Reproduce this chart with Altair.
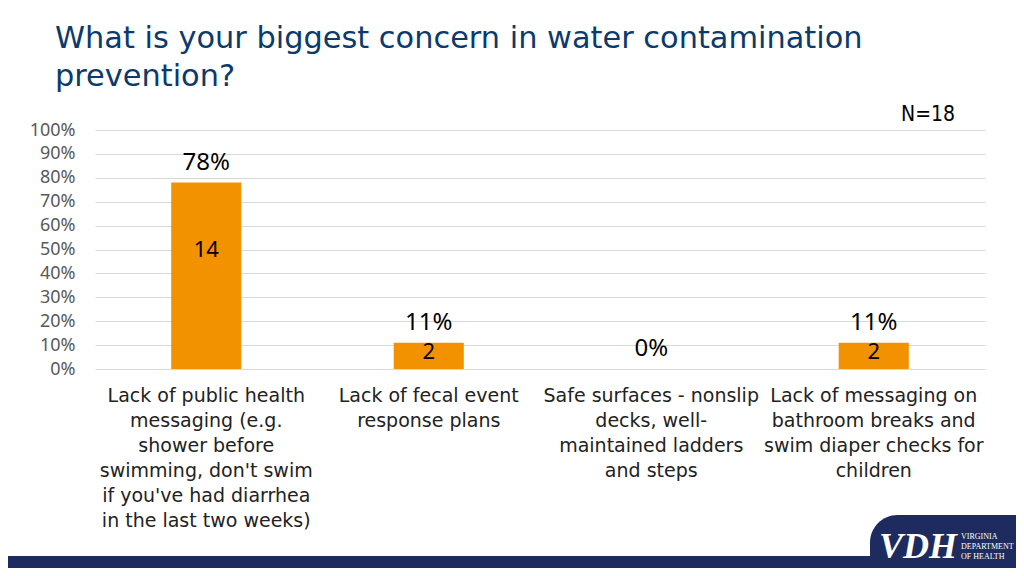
import altair as alt
import pandas as pd

# ---- data ----
categories = [
    "Lack of public health messaging",
    "Lack of fecal event response plans",
    "Safe surfaces",
    "Lack of messaging on bathroom breaks",
]
category_labels = [
    "Lack of public health\nmessaging (e.g.\nshower before\nswimming, don't swim\nif you've had diarrhea\nin the last two weeks)",
    "Lack of fecal event\nresponse plans",
    "Safe surfaces - nonslip\ndecks, well-\nmaintained ladders\nand steps",
    "Lack of messaging on\nbathroom breaks and\nswim diaper checks for\nchildren",
]
percent_values = [78, 11, 0, 11]
count_values = [14, 2, 0, 2]
y_ticks = list(range(0, 101, 10))

title_lines = ["What is your biggest concern in water contamination", "prevention?"]
n_label = "N=18"
logo_main = "VDH"
logo_sub = "VIRGINIA\nDEPARTMENT\nOF HEALTH"

df = pd.DataFrame({
    "category": categories,
    "label": category_labels,
    "pct": percent_values,
    "count": count_values,
})

W, H = 890, 239
ORANGE = "#F39200"
NAVY = "#1E2B5E"
TITLE_BLUE = "#0B3A6B"
TF = "DejaVu Sans"
NF = "Noto Sans"

xscale = alt.Scale(domain=categories, paddingInner=0.685, paddingOuter=0.3425)
yscale = alt.Scale(domain=[0, 100])
yaxis = alt.Axis(
    values=y_ticks, title=None, labelExpr="datum.value + '%'",
    labelFont=NF, labelFontSize=18, labelColor="#595959",
    labelPadding=20, ticks=False, domain=False, labelOverlap=False,
    grid=True, gridColor="#D9D9D9", gridWidth=1,
)

bars = alt.Chart(df).mark_bar(color=ORANGE).encode(
    x=alt.X("category:N", scale=xscale, axis=None, sort=categories),
    y=alt.Y("pct:Q", scale=yscale, axis=yaxis),
)

pct_text = alt.Chart(df).mark_text(
    font=NF, fontSize=24, color="#000000", baseline="bottom", dy=-8
).encode(
    x=alt.X("category:N", scale=xscale, axis=None, sort=categories),
    y=alt.Y("pct:Q", scale=yscale, axis=yaxis),
    text=alt.Text("ptxt:N"),
).transform_calculate(ptxt="datum.pct + '%'")

cnt_text = alt.Chart(df).mark_text(
    font=NF, fontSize=22, color="#000000", baseline="middle"
).encode(
    x=alt.X("category:N", scale=xscale, axis=None, sort=categories),
    y=alt.Y("cpos:Q", scale=yscale, axis=yaxis),
    text=alt.Text("count:Q"),
).transform_filter("datum.count > 0").transform_calculate(cpos="datum.pct * 0.64")

x_labels = alt.Chart(df).mark_text(
    font=TF, fontSize=19, color="#222222", baseline="top", align="center",
    lineBreak="\n", lineHeight=25
).encode(
    x=alt.X("category:N", scale=xscale, axis=None, sort=categories),
    y=alt.value(257),
    text="label:N",
)

one = pd.DataFrame({"a": [0]})

title1 = alt.Chart(one).mark_text(
    font=TF, fontSize=30.4, color=TITLE_BLUE, align="left", baseline="alphabetic"
).encode(x=alt.value(-40), y=alt.value(-82), text=alt.value(title_lines[0]))
title2 = alt.Chart(one).mark_text(
    font=TF, fontSize=30.4, color=TITLE_BLUE, align="left", baseline="alphabetic"
).encode(x=alt.value(-40), y=alt.value(-44), text=alt.value(title_lines[1]))

n_text = alt.Chart(one).mark_text(
    font="DejaVu Sans Condensed", fontSize=21, color="#000000", align="center", baseline="middle"
).encode(x=alt.value(833), y=alt.value(-15), text=alt.value(n_label))

footer = alt.Chart(one).mark_rect(color=NAVY).encode(
    x=alt.value(-87), x2=alt.value(921), y=alt.value(426), y2=alt.value(440)
)
logo_bg = alt.Chart(one).mark_rect(color=NAVY, cornerRadiusTopLeft=38).encode(
    x=alt.value(775), x2=alt.value(925), y=alt.value(385), y2=alt.value(440)
)
logo_vdh = alt.Chart(one).mark_text(
    font="Liberation Serif", fontSize=36, fontWeight="bold", fontStyle="italic",
    color="white", align="center", baseline="alphabetic"
).encode(x=alt.value(823), y=alt.value(428), text=alt.value(logo_main))
logo_small = alt.Chart(one).mark_text(
    font="Liberation Serif", fontSize=8, color="white", align="left", baseline="alphabetic",
    lineBreak="\n", lineHeight=10
).encode(
    x=alt.value(866), y=alt.value(409), text=alt.value(logo_sub),
)

chart = alt.layer(
    bars, pct_text, cnt_text, x_labels, title1, title2, n_text,
    footer, logo_bg, logo_vdh, logo_small
).properties(
    width=W, height=H,
    autosize=alt.AutoSizeParams(type="none"),
    padding={"left": 87, "top": 122, "right": 31, "bottom": 199},
    background="white",
).configure_view(stroke=None)

chart.save("out.html", embed_options={"renderer": "svg", "actions": False})
